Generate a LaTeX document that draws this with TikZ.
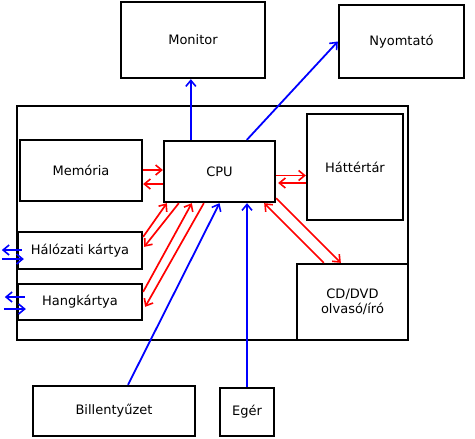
\documentclass[tikz,border=0pt]{standalone}
\usepackage{fontspec}
\setmainfont{DejaVu Sans}
\usetikzlibrary{arrows.meta}
\begin{document}
\begin{tikzpicture}[x=1pt,y=-1pt,
  box/.style={draw=black,line width=2.3pt,inner sep=0pt,align=center,text=black,font=\fontsize{13}{15.5}\selectfont},
  barrow/.style={draw=blue,line width=1.8pt,-{Straight Barb[length=6pt,width=10pt,line width=1.6pt]}},
  rarrow/.style={draw=red,line width=1.7pt,-{Straight Barb[length=6pt,width=10pt,line width=1.6pt]}}]
\useasboundingbox (0,0) rectangle (475,439);
\node[box,minimum width=144pt,minimum height=76pt] (mon) at (193,40) {Monitor};
\node[box,minimum width=125pt,minimum height=73pt] (nyom) at (401.5,41.5) {Nyomtató};
\node[box,minimum width=391pt,minimum height=234pt] (outer) at (212.5,223) {};
\node[box,minimum width=122pt,minimum height=61pt] (mem) at (81,170.5) {Memória};
\node[box,minimum width=111pt,minimum height=61pt] (cpu) at (219.5,171.5) {CPU};
\node[box,minimum width=96pt,minimum height=106pt] (hatt) at (355,167) {Háttértár};
\node[box,minimum width=124pt,minimum height=37pt] (halo) at (80,250.5) {Hálózati kártya};
\node[box,minimum width=124pt,minimum height=36pt] (hang) at (80,302) {Hangkártya};
\node[box,minimum width=111pt,minimum height=76pt] (cd) at (352.5,302) {CD/DVD\\olvasó/író};
\node[box,minimum width=162pt,minimum height=50pt] (bill) at (114,411) {Billentyűzet};
\node[box,minimum width=54pt,minimum height=48pt] (eger) at (247,412) {Egér};
% blue connectors
\draw[barrow] ([xshift=28pt]cpu.north west) -- ([xshift=28pt]cpu.north west |- mon.south);
\draw[barrow] ([xshift=84pt]cpu.north west) -- (nyom.west);
\draw[barrow] ([xshift=14pt]bill.north) -- (cpu.south);
\draw[barrow] (eger.north) -- (eger.north |- cpu.south);
\draw[barrow] ([xshift=5pt,yshift=0.5pt]halo.west) -- ([xshift=-15pt,yshift=0.5pt]halo.west);
\draw[barrow] ([xshift=-15pt,yshift=-8.5pt]halo.west) -- ([xshift=7pt,yshift=-8.5pt]halo.west);
\draw[barrow] ([xshift=8pt,yshift=5pt]hang.west) -- ([xshift=-12pt,yshift=5pt]hang.west);
\draw[barrow] ([xshift=-13pt,yshift=-7pt]hang.west) -- ([xshift=9pt,yshift=-7pt]hang.west);
% red connectors
\draw[rarrow] ([yshift=0.5pt]mem.east) -- ([yshift=0.5pt]mem.east -| cpu.west);
\draw[rarrow] ([yshift=-12.5pt]cpu.west) -- ([yshift=-12.5pt]cpu.west -| mem.east);
\draw[rarrow] ([yshift=-4pt]cpu.east) -- ([yshift=-4pt]cpu.east -| hatt.west);
\draw[rarrow] ([yshift=-11.5pt]cpu.east -| hatt.west) -- ([xshift=2pt,yshift=-11.5pt]cpu.east);
\draw[rarrow] ([yshift=5pt]cpu.south east) -- ([xshift=45pt]cd.north west);
\draw[rarrow] ([xshift=28pt]cd.north west) -- ([xshift=-12pt]cpu.south east);
\draw[rarrow] ([yshift=-6pt]halo.north east) -- ([xshift=4pt]cpu.south west);
\draw[rarrow] ([xshift=16pt]cpu.south west) -- ([xshift=1pt,yshift=-16pt]halo.north east);
\draw[rarrow] ([yshift=-9pt]hang.north east) -- ([xshift=29pt]cpu.south west);
\draw[rarrow] ([xshift=41pt]cpu.south west) -- ([xshift=2pt,yshift=-24pt]hang.north east);
\end{tikzpicture}
\end{document}
